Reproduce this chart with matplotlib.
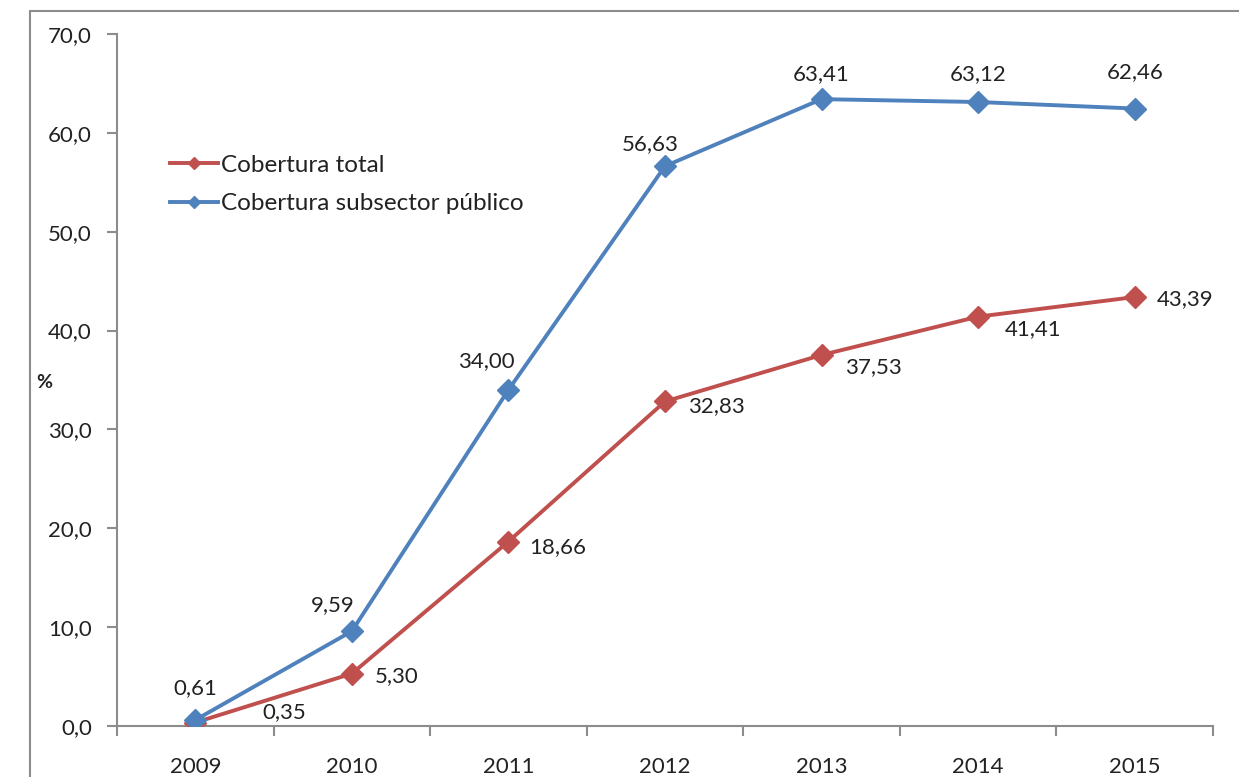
import numpy as np
import matplotlib.pyplot as plt
from matplotlib.patches import Rectangle

years = ['2009', '2010', '2011', '2012', '2013', '2014', '2015']
cobertura_total = [0.35, 5.30, 18.66, 32.83, 37.53, 41.41, 43.39]
cobertura_publico = [0.61, 9.59, 34.00, 56.63, 63.41, 63.12, 62.46]

plt.rcParams['font.family'] = ['Lato', 'DejaVu Sans']
txt = '#222222'
grey = '#8c8c8c'
red = '#C0504D'
blue = '#4F81BD'
fs = 16

fig = plt.figure(figsize=(12.39, 7.77), dpi=100)
# marco exterior del grafico (recortado a derecha y abajo)
fig.patches.append(Rectangle((30 / 1239, -0.1), 1.2, 1.1 - 11 / 777,
                             transform=fig.transFigure, fill=False,
                             edgecolor=grey, linewidth=1.5))

ax = fig.add_axes([117 / 1239, 1 - 726 / 777, 1096 / 1239, 692 / 777])
x = np.arange(len(years))

ax.plot(x, cobertura_total, color=red, lw=2.8, marker='D', ms=11,
        label='Cobertura total', zorder=3)
ax.plot(x, cobertura_publico, color=blue, lw=2.8, marker='D', ms=11,
        label='Cobertura subsector público', zorder=3)

# etiquetas de datos (desplazamiento en pixeles)
off_total = [(89, 10), (23, -2), (21, -6), (23, -5), (23, -12), (27, -12), (22, -2)]
off_publico = [(0, 32), (-19, 26), (-22, 29), (-15, 22), (0, 25), (0, 28), (0, 36)]
for i in range(len(years)):
    ax.annotate(f'{cobertura_total[i]:.2f}'.replace('.', ','), (x[i], cobertura_total[i]),
                xytext=off_total[i], textcoords='offset pixels',
                ha='left' if i > 0 else 'center', va='center', fontsize=fs, color=txt)
    ax.annotate(f'{cobertura_publico[i]:.2f}'.replace('.', ','), (x[i], cobertura_publico[i]),
                xytext=off_publico[i], textcoords='offset pixels',
                ha='center', va='center', fontsize=fs, color=txt)

ax.set_xlim(-0.5, 6.5)
ax.set_ylim(0, 70)
ax.set_yticks(np.arange(0, 71, 10))
ax.set_yticklabels([f'{v:.1f}'.replace('.', ',') for v in np.arange(0, 71, 10)])
ax.set_xticks(np.arange(-0.5, 7, 1))
ax.set_xticklabels([])
ax.set_xticks(x, minor=True)
ax.set_xticklabels(years, minor=True)
ax.tick_params(axis='x', which='major', length=7, color=grey, width=1.5, direction='out')
ax.tick_params(axis='x', which='minor', length=0, pad=22, labelsize=fs, labelcolor=txt)
ax.tick_params(axis='y', length=7, color=grey, width=1.5, pad=11, labelsize=fs, labelcolor=txt)

for s in ['top', 'right']:
    ax.spines[s].set_visible(False)
for s in ['left', 'bottom']:
    ax.spines[s].set_color(grey)
    ax.spines[s].set_linewidth(1.5)

fig.text(44 / 1239, 1 - 382 / 777, '%', fontsize=14, fontweight='bold', color=txt,
         ha='center', va='center')

ax.legend(loc='center left', bbox_to_anchor=(0.048, 0.7825), frameon=False, fontsize=17.5,
          handlelength=2.0, handletextpad=0.1, labelspacing=0.7, markerscale=0.55,
          borderaxespad=0, borderpad=0, labelcolor=txt)

fig.savefig('out.png', dpi=100)
